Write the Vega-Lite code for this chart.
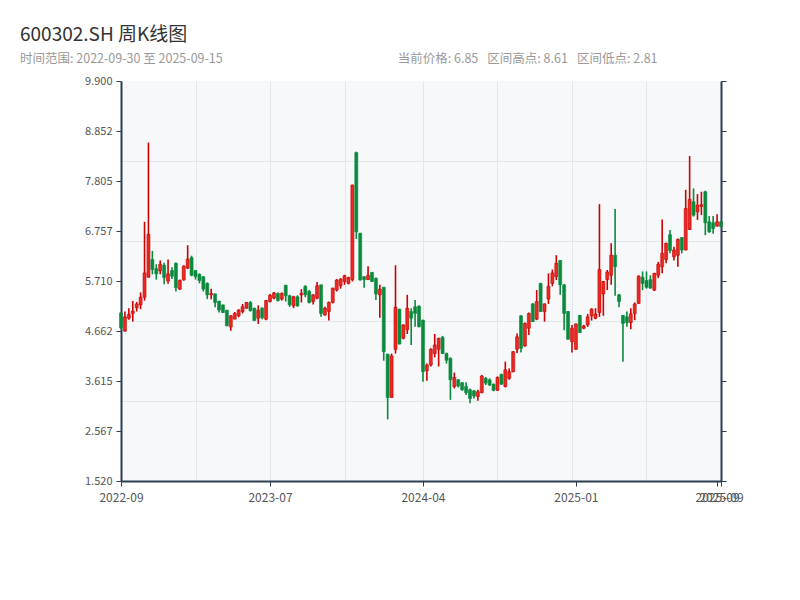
{
  "$schema": "https://vega.github.io/schema/vega-lite/v6.json",
  "width": 600,
  "height": 400,
  "padding": {"left": 20, "top": 25, "right": 20, "bottom": 10},
  "background": "white",
  "config": {
    "view": {"fill": "#f6f8fa", "stroke": null},
    "font": "Noto Sans CJK SC"
  },
  "title": {
    "text": "600302.SH 周K线图",
    "subtitle": "时间范围: 2022-09-30 至 2025-09-15\u2003\u2003\u2003\u2003\u2003\u2003\u2003\u2003\u2003\u2003\u2003\u2003\u2003\u2003当前价格: 6.85\u2002 区间高点: 8.61\u2002 区间低点: 2.81",
    "anchor": "start",
    "frame": "bounds",
    "fontSize": 19,
    "fontWeight": "normal",
    "color": "#333333",
    "subtitleFontSize": 12.5,
    "subtitleColor": "#999999",
    "subtitlePadding": 8,
    "offset": 10
  },
  "data": {
    "values": [
      {"d":"2022-09-30","o":5.04,"c":4.73,"h":5.06,"l":4.70},
      {"d":"2022-10-14","o":4.66,"c":4.96,"h":5.07,"l":4.65},
      {"d":"2022-10-21","o":4.93,"c":5.01,"h":5.14,"l":4.90},
      {"d":"2022-10-28","o":5.03,"c":5.08,"h":5.29,"l":4.86},
      {"d":"2022-11-04","o":5.15,"c":5.23,"h":5.27,"l":5.07},
      {"d":"2022-11-11","o":5.21,"c":5.37,"h":5.47,"l":5.12},
      {"d":"2022-11-18","o":5.37,"c":5.88,"h":6.95,"l":5.30},
      {"d":"2022-11-25","o":5.79,"c":6.69,"h":8.61,"l":5.78},
      {"d":"2022-12-02","o":6.16,"c":5.95,"h":6.34,"l":5.85},
      {"d":"2022-12-09","o":5.97,"c":5.86,"h":6.06,"l":5.74},
      {"d":"2022-12-16","o":5.92,"c":6.06,"h":6.14,"l":5.85},
      {"d":"2022-12-23","o":6.04,"c":5.78,"h":6.09,"l":5.64},
      {"d":"2022-12-30","o":5.71,"c":5.86,"h":6.16,"l":5.65},
      {"d":"2023-01-06","o":5.93,"c":5.81,"h":6.00,"l":5.75},
      {"d":"2023-01-13","o":6.08,"c":5.57,"h":6.10,"l":5.49},
      {"d":"2023-01-20","o":5.54,"c":5.72,"h":5.74,"l":5.52},
      {"d":"2023-02-03","o":5.73,"c":6.02,"h":6.04,"l":5.72},
      {"d":"2023-02-10","o":5.98,"c":6.17,"h":6.46,"l":5.96},
      {"d":"2023-02-17","o":6.20,"c":5.83,"h":6.24,"l":5.81},
      {"d":"2023-02-24","o":5.93,"c":5.80,"h":5.93,"l":5.74},
      {"d":"2023-03-03","o":5.85,"c":5.72,"h":5.87,"l":5.66},
      {"d":"2023-03-10","o":5.80,"c":5.54,"h":5.81,"l":5.49},
      {"d":"2023-03-17","o":5.66,"c":5.42,"h":5.68,"l":5.33},
      {"d":"2023-03-24","o":5.42,"c":5.45,"h":5.55,"l":5.33},
      {"d":"2023-03-31","o":5.44,"c":5.26,"h":5.45,"l":5.16},
      {"d":"2023-04-07","o":5.29,"c":5.10,"h":5.29,"l":5.05},
      {"d":"2023-04-14","o":5.21,"c":5.05,"h":5.21,"l":5.04},
      {"d":"2023-04-21","o":5.10,"c":4.77,"h":5.10,"l":4.77},
      {"d":"2023-04-28","o":4.75,"c":4.98,"h":5.00,"l":4.67},
      {"d":"2023-05-05","o":4.91,"c":5.03,"h":5.06,"l":4.91},
      {"d":"2023-05-12","o":4.98,"c":5.10,"h":5.12,"l":4.95},
      {"d":"2023-05-19","o":5.07,"c":5.17,"h":5.23,"l":5.03},
      {"d":"2023-05-26","o":5.14,"c":5.26,"h":5.27,"l":5.13},
      {"d":"2023-06-02","o":5.26,"c":5.09,"h":5.29,"l":5.07},
      {"d":"2023-06-09","o":5.14,"c":4.88,"h":5.15,"l":4.88},
      {"d":"2023-06-16","o":4.93,"c":5.10,"h":5.20,"l":4.81},
      {"d":"2023-06-23","o":5.14,"c":4.94,"h":5.16,"l":4.91},
      {"d":"2023-06-30","o":4.91,"c":5.30,"h":5.31,"l":4.89},
      {"d":"2023-07-07","o":5.28,"c":5.41,"h":5.44,"l":5.26},
      {"d":"2023-07-14","o":5.35,"c":5.46,"h":5.48,"l":5.33},
      {"d":"2023-07-21","o":5.45,"c":5.30,"h":5.47,"l":5.28},
      {"d":"2023-07-28","o":5.33,"c":5.45,"h":5.47,"l":5.30},
      {"d":"2023-08-04","o":5.62,"c":5.40,"h":5.63,"l":5.28},
      {"d":"2023-08-11","o":5.40,"c":5.21,"h":5.42,"l":5.17},
      {"d":"2023-08-18","o":5.19,"c":5.38,"h":5.40,"l":5.14},
      {"d":"2023-08-25","o":5.38,"c":5.19,"h":5.41,"l":5.17},
      {"d":"2023-09-01","o":5.42,"c":5.45,"h":5.54,"l":5.26},
      {"d":"2023-09-08","o":5.60,"c":5.42,"h":5.62,"l":5.37},
      {"d":"2023-09-15","o":5.49,"c":5.26,"h":5.52,"l":5.24},
      {"d":"2023-09-22","o":5.28,"c":5.42,"h":5.43,"l":5.22},
      {"d":"2023-09-29","o":5.35,"c":5.61,"h":5.69,"l":5.33},
      {"d":"2023-10-06","o":5.63,"c":5.03,"h":5.63,"l":4.96},
      {"d":"2023-10-13","o":5.00,"c":5.14,"h":5.17,"l":4.98},
      {"d":"2023-10-20","o":5.07,"c":5.26,"h":5.28,"l":4.88},
      {"d":"2023-10-27","o":5.26,"c":5.56,"h":5.57,"l":5.24},
      {"d":"2023-11-03","o":5.52,"c":5.73,"h":5.75,"l":5.49},
      {"d":"2023-11-10","o":5.61,"c":5.75,"h":5.77,"l":5.55},
      {"d":"2023-11-17","o":5.70,"c":5.82,"h":5.84,"l":5.63},
      {"d":"2023-11-24","o":5.66,"c":5.78,"h":5.80,"l":5.64},
      {"d":"2023-12-01","o":5.74,"c":7.72,"h":7.73,"l":5.70},
      {"d":"2023-12-08","o":8.40,"c":6.74,"h":8.42,"l":6.59},
      {"d":"2023-12-15","o":6.71,"c":5.73,"h":6.72,"l":5.72},
      {"d":"2023-12-22","o":5.80,"c":5.74,"h":5.81,"l":5.57},
      {"d":"2023-12-29","o":5.74,"c":5.83,"h":6.02,"l":5.73},
      {"d":"2024-01-05","o":5.89,"c":5.70,"h":5.90,"l":5.69},
      {"d":"2024-01-12","o":5.77,"c":5.44,"h":5.78,"l":5.31},
      {"d":"2024-01-19","o":5.42,"c":5.54,"h":5.63,"l":4.94},
      {"d":"2024-01-26","o":5.58,"c":4.23,"h":5.58,"l":4.04},
      {"d":"2024-02-02","o":4.18,"c":3.27,"h":4.18,"l":2.81},
      {"d":"2024-02-09","o":3.27,"c":4.14,"h":4.19,"l":3.27},
      {"d":"2024-02-16","o":4.28,"c":5.16,"h":6.04,"l":4.19},
      {"d":"2024-02-23","o":5.12,"c":4.39,"h":5.13,"l":4.38},
      {"d":"2024-03-01","o":4.51,"c":4.79,"h":4.80,"l":4.49},
      {"d":"2024-03-08","o":4.69,"c":5.14,"h":5.42,"l":4.60},
      {"d":"2024-03-15","o":5.07,"c":4.93,"h":5.14,"l":4.37},
      {"d":"2024-03-22","o":5.17,"c":5.03,"h":5.31,"l":4.75},
      {"d":"2024-03-29","o":5.18,"c":4.75,"h":5.20,"l":4.74},
      {"d":"2024-04-05","o":4.89,"c":3.81,"h":4.90,"l":3.60},
      {"d":"2024-04-12","o":3.83,"c":3.95,"h":3.98,"l":3.62},
      {"d":"2024-04-19","o":3.95,"c":4.28,"h":4.30,"l":3.92},
      {"d":"2024-04-26","o":4.19,"c":4.37,"h":4.60,"l":4.11},
      {"d":"2024-05-03","o":4.28,"c":4.51,"h":4.52,"l":3.92},
      {"d":"2024-05-10","o":4.53,"c":4.19,"h":4.56,"l":4.18},
      {"d":"2024-05-17","o":4.19,"c":4.05,"h":4.21,"l":3.98},
      {"d":"2024-05-24","o":4.09,"c":3.64,"h":4.11,"l":3.22},
      {"d":"2024-05-31","o":3.50,"c":3.69,"h":3.79,"l":3.46},
      {"d":"2024-06-07","o":3.64,"c":3.51,"h":3.65,"l":3.48},
      {"d":"2024-06-14","o":3.58,"c":3.43,"h":3.59,"l":3.41},
      {"d":"2024-06-21","o":3.50,"c":3.37,"h":3.59,"l":3.32},
      {"d":"2024-06-28","o":3.43,"c":3.25,"h":3.46,"l":3.15},
      {"d":"2024-07-05","o":3.41,"c":3.30,"h":3.42,"l":3.25},
      {"d":"2024-07-12","o":3.29,"c":3.39,"h":3.43,"l":3.20},
      {"d":"2024-07-19","o":3.37,"c":3.72,"h":3.74,"l":3.36},
      {"d":"2024-07-26","o":3.67,"c":3.57,"h":3.70,"l":3.53},
      {"d":"2024-08-02","o":3.64,"c":3.53,"h":3.67,"l":3.51},
      {"d":"2024-08-09","o":3.55,"c":3.42,"h":3.56,"l":3.40},
      {"d":"2024-08-16","o":3.42,"c":3.69,"h":3.71,"l":3.41},
      {"d":"2024-08-23","o":3.75,"c":3.55,"h":3.77,"l":3.53},
      {"d":"2024-08-30","o":3.50,"c":3.85,"h":4.02,"l":3.48},
      {"d":"2024-09-06","o":3.67,"c":3.81,"h":3.88,"l":3.64},
      {"d":"2024-09-13","o":3.81,"c":4.23,"h":4.24,"l":3.80},
      {"d":"2024-09-20","o":4.28,"c":4.54,"h":4.61,"l":4.20},
      {"d":"2024-09-27","o":4.98,"c":4.30,"h":4.99,"l":4.21},
      {"d":"2024-10-04","o":4.35,"c":4.82,"h":4.84,"l":4.33},
      {"d":"2024-10-11","o":4.72,"c":5.03,"h":5.05,"l":4.58},
      {"d":"2024-10-18","o":5.23,"c":4.86,"h":5.25,"l":4.85},
      {"d":"2024-10-25","o":4.91,"c":5.28,"h":5.52,"l":4.89},
      {"d":"2024-11-01","o":5.66,"c":5.07,"h":5.67,"l":5.06},
      {"d":"2024-11-08","o":5.07,"c":5.23,"h":5.24,"l":4.86},
      {"d":"2024-11-15","o":5.33,"c":5.60,"h":5.87,"l":5.23},
      {"d":"2024-11-22","o":5.66,"c":5.88,"h":5.95,"l":5.60},
      {"d":"2024-11-29","o":5.80,"c":6.08,"h":6.25,"l":5.73},
      {"d":"2024-12-06","o":6.14,"c":5.63,"h":6.15,"l":5.42},
      {"d":"2024-12-13","o":5.63,"c":5.03,"h":5.64,"l":4.68},
      {"d":"2024-12-20","o":5.07,"c":4.49,"h":5.08,"l":4.48},
      {"d":"2024-12-27","o":4.44,"c":4.72,"h":4.79,"l":4.21},
      {"d":"2025-01-03","o":4.28,"c":4.81,"h":4.82,"l":4.27},
      {"d":"2025-01-10","o":4.99,"c":4.63,"h":5.00,"l":4.62},
      {"d":"2025-01-17","o":4.72,"c":4.77,"h":4.79,"l":4.70},
      {"d":"2025-01-24","o":4.79,"c":4.96,"h":5.02,"l":4.75},
      {"d":"2025-01-31","o":4.98,"c":5.12,"h":5.14,"l":4.88},
      {"d":"2025-02-07","o":4.93,"c":5.02,"h":5.14,"l":4.91},
      {"d":"2025-02-14","o":5.05,"c":5.95,"h":7.32,"l":4.96},
      {"d":"2025-02-21","o":5.44,"c":5.70,"h":5.71,"l":4.98},
      {"d":"2025-02-28","o":5.74,"c":5.90,"h":5.94,"l":5.52},
      {"d":"2025-03-07","o":5.83,"c":6.25,"h":6.50,"l":5.63},
      {"d":"2025-03-14","o":6.25,"c":6.01,"h":7.22,"l":5.40},
      {"d":"2025-03-21","o":5.42,"c":5.28,"h":5.44,"l":5.16},
      {"d":"2025-03-28","o":4.99,"c":4.82,"h":5.00,"l":4.02},
      {"d":"2025-04-04","o":4.96,"c":4.84,"h":5.07,"l":4.75},
      {"d":"2025-04-11","o":4.84,"c":5.02,"h":5.14,"l":4.70},
      {"d":"2025-04-18","o":5.03,"c":5.23,"h":5.26,"l":4.89},
      {"d":"2025-04-25","o":5.24,"c":5.81,"h":5.83,"l":5.23},
      {"d":"2025-05-02","o":5.79,"c":5.66,"h":5.91,"l":5.52},
      {"d":"2025-05-09","o":5.72,"c":5.58,"h":5.91,"l":5.55},
      {"d":"2025-05-16","o":5.74,"c":5.56,"h":5.83,"l":5.55},
      {"d":"2025-05-23","o":5.52,"c":5.87,"h":5.88,"l":5.50},
      {"d":"2025-05-30","o":5.83,"c":6.06,"h":6.11,"l":5.77},
      {"d":"2025-06-06","o":6.01,"c":6.29,"h":7.00,"l":5.87},
      {"d":"2025-06-13","o":6.16,"c":6.50,"h":6.51,"l":6.08},
      {"d":"2025-06-20","o":6.68,"c":6.35,"h":6.78,"l":6.29},
      {"d":"2025-06-27","o":6.22,"c":6.36,"h":6.43,"l":6.14},
      {"d":"2025-07-04","o":6.25,"c":6.58,"h":6.60,"l":6.01},
      {"d":"2025-07-11","o":6.62,"c":6.36,"h":6.63,"l":6.29},
      {"d":"2025-07-18","o":6.36,"c":7.23,"h":7.62,"l":6.35},
      {"d":"2025-07-25","o":6.79,"c":7.42,"h":8.33,"l":6.78},
      {"d":"2025-08-01","o":7.37,"c":7.09,"h":7.65,"l":7.06},
      {"d":"2025-08-08","o":7.16,"c":7.30,"h":7.53,"l":6.99},
      {"d":"2025-08-15","o":7.27,"c":7.31,"h":7.58,"l":7.09},
      {"d":"2025-08-22","o":7.58,"c":6.93,"h":7.60,"l":6.67},
      {"d":"2025-08-29","o":6.95,"c":6.74,"h":7.07,"l":6.72},
      {"d":"2025-09-05","o":6.93,"c":6.81,"h":7.07,"l":6.70},
      {"d":"2025-09-12","o":6.86,"c":6.95,"h":7.11,"l":6.85},
      {"d":"2025-09-15","o":6.95,"c":6.85,"h":6.97,"l":6.84}
    ]
  },
  "layer": [
    {
      "mark": {"type": "tick", "opacity": 0},
      "encoding": {
        "x": {
          "field": "d", "type": "ordinal", "sort": null,
          "scale": {"type": "point", "padding": 0},
          "axis": {"orient": "top", "title": null, "grid": true, "gridColor": "#e3e6eb", "gridWidth": 1,
                   "labels": false, "ticks": false, "domain": false,
                   "values": ["2023-02-24","2023-07-07","2023-11-17","2024-04-05","2024-08-16","2024-12-27","2025-05-09","2025-09-15"]}
        },
        "y": {
          "field": "c", "type": "quantitative",
          "scale": {"domain": [1.52, 9.9], "nice": false, "zero": false},
          "axis": {"orient": "left", "title": null, "grid": true, "gridColor": "#e3e6eb", "gridWidth": 1,
                   "labels": false, "ticks": false, "domain": false,
                   "values": [3.196, 4.872, 6.548, 8.224]}
        }
      }
    },
    {
      "mark": {"type": "rule", "strokeWidth": 1.6},
      "encoding": {
        "x": {
          "field": "d", "type": "ordinal", "sort": null,
          "scale": {"type": "point", "padding": 0},
          "axis": {"orient": "bottom", "title": null, "grid": false,
                   "values": ["2022-09-30","2023-07-07","2024-04-05","2025-01-03","2025-09-12","2025-09-15"],
                   "labelExpr": "slice(datum.value, 0, 7)", "labelAngle": 0,
                   "labelFontSize": 12, "labelColor": "#555555", "labelPadding": 6,
                   "domainColor": "#2c3e50", "domainWidth": 2, "tickColor": "#2c3e50", "tickSize": 5, "tickWidth": 1}
        },
        "y": {
          "field": "l", "type": "quantitative",
          "scale": {"domain": [1.52, 9.9], "nice": false, "zero": false},
          "axis": {"orient": "left", "title": null, "grid": false,
                   "values": [1.52, 2.567, 3.615, 4.662, 5.71, 6.757, 7.805, 8.852, 9.9], "format": ".3f",
                   "labelFontSize": 11, "labelColor": "#555555", "labelPadding": 4,
                   "domainColor": "#2c3e50", "domainWidth": 2, "tickColor": "#2c3e50", "tickSize": 5, "tickWidth": 1,
                   "minExtent": 101, "maxExtent": 101}
        },
        "y2": {"field": "h"},
        "color": {"condition": {"test": "datum.c >= datum.o", "value": "#cc0000"}, "value": "#0a8a3c"}
      }
    },
    {
      "mark": {"type": "bar", "size": 3, "strokeWidth": 0.6},
      "encoding": {
        "x": {"field": "d", "type": "ordinal", "sort": null, "scale": {"type": "point", "padding": 0}, "axis": null},
        "y": {
          "field": "o", "type": "quantitative",
          "scale": {"domain": [1.52, 9.9], "nice": false, "zero": false},
          "axis": {"orient": "right", "title": null, "grid": false, "labels": false,
                   "values": [1.52, 2.567, 3.615, 4.662, 5.71, 6.757, 7.805, 8.852, 9.9],
                   "domainColor": "#2c3e50", "domainWidth": 2, "tickColor": "#2c3e50", "tickSize": 5, "tickWidth": 1}
        },
        "y2": {"field": "c"},
        "fill": {"condition": {"test": "datum.c >= datum.o", "value": "#ea2a22"}, "value": "#0a8a3c"},
        "stroke": {"condition": {"test": "datum.c >= datum.o", "value": "#c40000"}, "value": "#0a8a3c"}
      }
    }
  ],
  "resolve": {"axis": {"x": "independent", "y": "independent"}}
}
